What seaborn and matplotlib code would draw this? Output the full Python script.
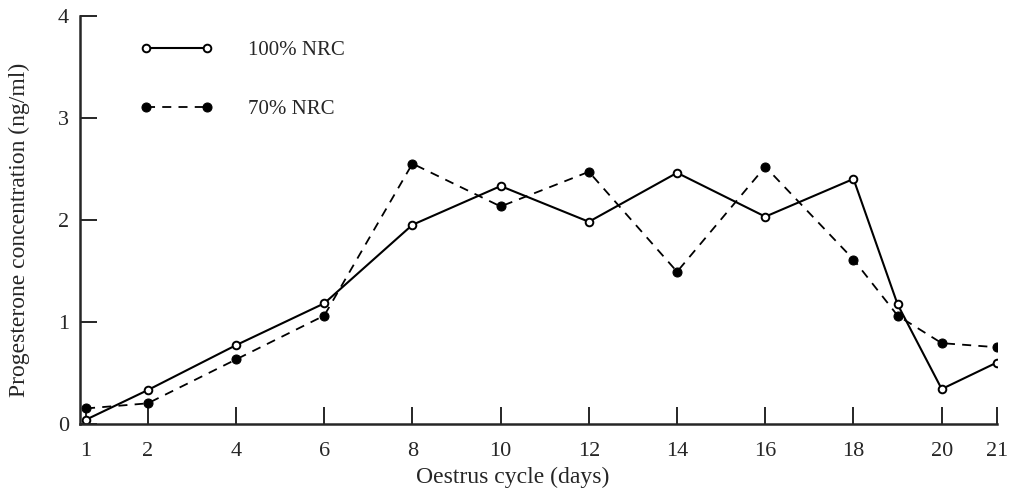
import numpy as np
import pandas as pd
import matplotlib
matplotlib.use('Agg')
import matplotlib.pyplot as plt
import seaborn as sns

# 데이터: 발정주기 일자별 프로게스테론 농도 (ng/ml)
days = [1, 2, 4, 6, 8, 10, 12, 14, 16, 18, 19, 20, 21]
nrc100 = [0.04, 0.33, 0.77, 1.18, 1.95, 2.33, 1.98, 2.46, 2.03, 2.40, 1.17, 0.34, 0.60]
nrc70 = [0.15, 0.20, 0.63, 1.06, 2.55, 2.13, 2.47, 1.49, 2.52, 1.61, 1.06, 0.79, 0.75]
xticks = [1, 2, 4, 6, 8, 10, 12, 14, 16, 18, 20, 21]
yticks = [0, 1, 2, 3, 4]

df = pd.DataFrame({'day': days, '100% NRC': nrc100, '70% NRC': nrc70})

sns.set_style('ticks')
plt.rcParams['font.family'] = ['Liberation Serif', 'DejaVu Serif']

fig = plt.figure(figsize=(10.11, 4.91), dpi=100)
ax = fig.add_axes([0.079, 0.137, 0.907, 0.831])

# 원본 그림의 x축 간격 (1일, 21일 부분이 좁거나 넓음)
knot_day = [0, 1, 2, 20, 21, 22]
knot_pos = [-0.4, 0.6, 2, 20, 21.25, 22.25]
fwd = lambda d: np.interp(d, knot_day, knot_pos)
inv = lambda p: np.interp(p, knot_pos, knot_day)
ax.set_xscale('function', functions=(fwd, inv))

sns.lineplot(data=df, x='day', y='100% NRC', ax=ax, color='black', lw=1.5,
             marker='o', markersize=5.5, markerfacecolor='white',
             markeredgecolor='black', markeredgewidth=1.4, label='100% NRC')
sns.lineplot(data=df, x='day', y='70% NRC', ax=ax, color='black', lw=1.3,
             linestyle=(0, (5, 4)), marker='o', markersize=6.5,
             markerfacecolor='black', markeredgecolor='black', label='70% NRC')

ax.set_xlim(0.86, 21.0)
ax.set_ylim(0, 4)
ax.set_xticks(xticks)
ax.set_xticklabels([str(t) for t in xticks])
ax.set_yticks(yticks)
ax.set_yticklabels([str(t) for t in yticks])
ax.tick_params(axis='x', direction='in', length=12, width=1.4, labelsize=16, pad=13)
ax.tick_params(axis='y', direction='in', length=12, width=1.4, labelsize=16, pad=8)
ax.minorticks_off()

for s in ['top', 'right']:
    ax.spines[s].set_visible(False)
for s in ['left', 'bottom']:
    ax.spines[s].set_linewidth(1.8)

ax.set_xlabel('Oestrus cycle (days)', fontsize=17, labelpad=4)
ax.set_ylabel('Progesterone concentration (ng/ml)', fontsize=17, labelpad=10)
ax.xaxis.set_label_coords(0.472, -0.105)
ax.yaxis.set_label_coords(-0.054, 0.475)

ax.legend(loc='upper left', bbox_to_anchor=(0.045, 0.985), frameon=False,
          fontsize=15, handlelength=3.5, handletextpad=1.7, labelspacing=1.9,
          numpoints=2)

fig.savefig('out.png', dpi=100)
